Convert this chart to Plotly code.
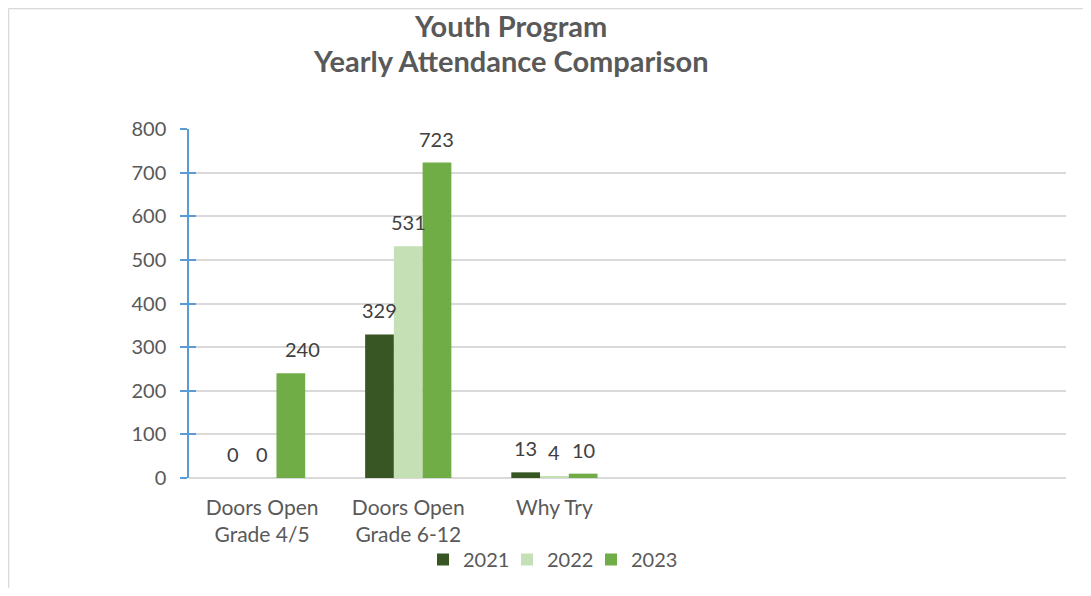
import plotly.graph_objects as go

categories = ["Doors Open<br>Grade 4/5", "Doors Open<br>Grade 6-12", "Why Try"]
years = ["2021", "2022", "2023"]
values_2021 = [0, 329, 13]
values_2022 = [0, 531, 4]
values_2023 = [240, 723, 10]
colors = ["#375623", "#C5E0B4", "#70AD47"]
y_ticks = [0, 100, 200, 300, 400, 500, 600, 700, 800]
n_slots = 6  # category slots on the x axis (3 used, rest empty)

# page body has an 8px margin; figure coordinates are offset accordingly
W, H = 1083, 580
L, R, T, B = 181, 25, 121, 110
pw, ph = W - L - R, H - T - B
BARGAP = 0.41

def px_x(p):
    return (p - L) / pw

def px_y(p):
    return (H - B - p) / ph

FONT = "Lato"
TXT = "#595959"
LBL = "#404040"

fig = go.Figure()
series = [values_2021, values_2022, values_2023]
for yr, vals, col in zip(years, series, colors):
    fig.add_trace(go.Bar(
        x=categories, y=vals, name=yr, marker=dict(color=col, line=dict(width=0)),
        hoverinfo="x+y+name",
    ))

# spacer legend entry (invisible) so the last visible legend text is not clipped
fig.add_trace(go.Scatter(x=[None], y=[None], name=" ", mode="markers",
                         marker=dict(color="rgba(0,0,0,0)", size=1, line=dict(width=0)),
                         hoverinfo="skip", showlegend=True))

# data labels as annotations (placed in data coordinates, shifted to each bar)
slot_px = pw / n_slots
bar_px = slot_px * (1 - BARGAP) / len(years)
label_nudge = {(0, 2): 12}
annotations = []
for si, vals in enumerate(series):
    for ci, v in enumerate(vals):
        annotations.append(dict(
            x=categories[ci], y=v, xref="x", yref="y", text=str(v), showarrow=False,
            xanchor="center", yanchor="middle",
            xshift=(si - 1) * bar_px + label_nudge.get((ci, si), 0), yshift=24,
            font=dict(family=FONT, size=20, color=LBL),
        ))

annotations += [
    dict(text="<b>Youth Program</b>", xref="paper", yref="paper", x=px_x(502), y=px_y(18),
         xanchor="center", yanchor="middle", showarrow=False,
         font=dict(family=FONT, size=29, color=TXT)),
    dict(text="<b>Yearly Attendance Comparison</b>", xref="paper", yref="paper",
         x=px_x(502), y=px_y(53), xanchor="center", yanchor="middle", showarrow=False,
         font=dict(family=FONT, size=29, color=TXT)),
]

fig.update_layout(
    width=W, height=H,
    margin=dict(l=L, r=R, t=T, b=B, autoexpand=False),
    paper_bgcolor="white", plot_bgcolor="white",
    barmode="group", bargap=BARGAP, bargroupgap=0,
    font=dict(family=FONT, color=TXT, size=20),
    showlegend=True,
    legend=dict(orientation="h", x=px_x(415), xanchor="left", y=px_y(532), yanchor="top",
                font=dict(family=FONT, size=20, color=TXT), itemwidth=30,
                entrywidth=39, entrywidthmode="pixels",
                traceorder="normal", bgcolor="rgba(0,0,0,0)"),
    xaxis=dict(type="category", range=[-0.5, n_slots - 0.5], showgrid=False, showline=False,
               zeroline=False, ticks="", tickfont=dict(family=FONT, size=21, color=TXT),
               ticklabelstandoff=15),
    yaxis=dict(range=[0, 800], tickvals=y_ticks, showgrid=True, gridcolor="#D9D9D9",
               gridwidth=1.5, zeroline=True, zerolinecolor="#D9D9D9", zerolinewidth=1.5,
               showline=True, linecolor="#5B9BD5", linewidth=1.5,
               ticks="outside", ticklen=7, tickcolor="#5B9BD5", tickwidth=1.5,
               tickfont=dict(family=FONT, size=20, color=TXT), ticklabelstandoff=10),
    yaxis2=dict(range=[0, 800], tickvals=y_ticks, overlaying="y", side="left",
                showgrid=False, zeroline=False, showline=False, showticklabels=False,
                ticks="inside", ticklen=7, tickcolor="#5B9BD5", tickwidth=1.5),
    annotations=annotations,
    shapes=[
        dict(type="line", xref="paper", yref="paper", x0=px_x(0.5), x1=px_x(W),
             y0=px_y(0.5), y1=px_y(0.5), line=dict(color="#D9D9D9", width=1.5)),
        dict(type="line", xref="paper", yref="paper", x0=px_x(0.5), x1=px_x(0.5),
             y0=px_y(0.5), y1=px_y(H), line=dict(color="#D9D9D9", width=1.5)),
    ],
)
# invisible trace to activate yaxis2 (crossing ticks)
fig.add_trace(go.Scatter(x=[categories[0]], y=[0], yaxis="y2", mode="markers",
                         marker=dict(opacity=0), showlegend=False, hoverinfo="skip"))

fig.write_html("out.html")
